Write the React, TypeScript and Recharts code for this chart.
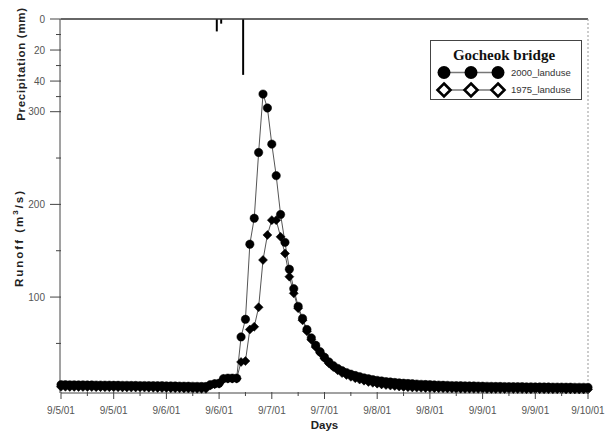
import React from 'react';
import { ComposedChart, Line, Bar, XAxis, YAxis, ReferenceLine, Legend } from 'recharts';

// hours since 9/5/01 00:00
const HOURS: number[] = Array.from({ length: 121 }, (_, i) => i);

const Q_2000 = [
  5.4, 5.4, 5.3, 5.3, 5.2, 5.2, 5.1, 5.1, 5.0, 5.0,
  4.9, 4.9, 4.8, 4.8, 4.7, 4.7, 4.6, 4.6, 4.5, 4.5,
  4.4, 4.4, 4.3, 4.3, 4.2, 4.1, 4.0, 3.9, 3.8, 3.8,
  3.7, 3.6, 3.5, 3.5, 5.5, 6.5, 7.0, 12.0, 12.5, 12.5,
  12.5, 57, 76, 157, 185, 256, 319, 304, 265, 231,
  189, 159, 130, 109, 90, 77, 65, 56, 48, 41,
  35, 30, 26, 23, 20.5, 18.5, 16.8, 15.3, 14.0, 12.8,
  11.8, 10.9, 10.1, 9.4, 8.8, 8.3, 7.8, 7.4, 7.0, 6.7,
  6.4, 6.1, 5.8, 5.6, 5.4, 5.2, 5.0, 4.8, 4.7, 4.5,
  4.4, 4.3, 4.2, 4.1, 4.0, 3.9, 3.8, 3.7, 3.6, 3.5,
  3.5, 3.4, 3.3, 3.3, 3.2, 3.2, 3.1, 3.1, 3.0, 3.0,
  2.9, 2.9, 2.8, 2.8, 2.8, 2.7, 2.7, 2.6, 2.6, 2.6, 2.5,
];

const Q_1975 = [
  3.2, 3.2, 3.1, 3.1, 3.0, 3.0, 2.9, 2.9, 2.8, 2.8,
  2.7, 2.7, 2.6, 2.6, 2.5, 2.5, 2.4, 2.4, 2.3, 2.3,
  2.2, 2.1, 2.0, 1.9, 1.8, 1.7, 1.6, 1.5, 1.4, 1.3,
  1.2, 1.1, 1.0, 1.0, 4.5, 6.0, 6.5, 11.5, 12.0, 12.0,
  12.0, 30, 31, 65, 68, 89, 140, 167, 183, 183,
  165, 147, 122, 104, 88, 75, 63, 54, 46, 40,
  34, 28.5, 24.5, 21, 18, 16, 14, 12.5, 11, 9.8,
  8.5, 7.5, 6.6, 5.8, 5.1, 4.5, 4.0, 3.5, 3.1, 2.8,
  2.5, 2.3, 2.1, 1.9, 1.8, 1.7, 1.6, 1.5, 1.4, 1.3,
  1.2, 1.2, 1.1, 1.1, 1.0, 1.0, 1.0, 0.9, 0.9, 0.9,
  0.8, 0.8, 0.8, 0.7, 0.7, 0.7, 0.6, 0.6, 0.6, 0.6,
  0.5, 0.5, 0.5, 0.5, 0.4, 0.4, 0.4, 0.4, 0.3, 0.3, 0.3,
];

const PRECIP_T = [35.5, 36.5, 41.5];
const PRECIP_MM = [8, 3, 36];

const X_TICKS = [0, 6, 12, 18, 24, 30, 36, 42, 48, 54, 60, 66, 72, 78, 84, 90, 96, 102, 108, 114, 120];
const X_TICK_LABELS = ['9/5/01', '9/5/01', '9/6/01', '9/6/01', '9/7/01', '9/7/01', '9/8/01', '9/8/01', '9/9/01', '9/9/01', '9/10/01'];
const RUNOFF_TICKS = [50, 100, 150, 200, 250, 300];
const RUNOFF_LABELED = [100, 200, 300];
const PRECIP_TICKS = [0, 10, 20, 30, 40, 50];
const PRECIP_LABELED = [0, 20, 40];

const SERIES_NAMES = ['2000_landuse', '1975_landuse'];
const LEGEND_TITLE = 'Gocheok bridge';

// layout constants
const W = 607;
const H = 432;
const PLOT_LEFT = 61;
const PLOT_TOP = 19;
const PLOT_RIGHT_MARGIN = 19;
const XAXIS_H = 39;
const PLOT_BOTTOM = H - XAXIS_H;
const FONT = '"Liberation Sans", Arial, sans-serif';
const TICK_COLOR = '#555';

type Row = { t: number; q2000?: number; q1975?: number; p?: number };

const rows: Row[] = [
  ...HOURS.map((t, i) => ({ t, q2000: Q_2000[i], q1975: Q_1975[i] })),
  ...PRECIP_T.map((t, i) => ({ t, p: PRECIP_MM[i] })),
].sort((a, b) => a.t - b.t);

const XTick = (props: any) => {
  const { x, payload } = props;
  const v = payload.value as number;
  const major = v % 12 === 0;
  return (
    <g>
      <line x1={x} x2={x} y1={PLOT_BOTTOM - 1} y2={PLOT_BOTTOM + (major ? 6 : 3)} stroke="#444" strokeWidth={1} />
      {major && (
        <text x={x} y={PLOT_BOTTOM + 21} textAnchor="middle" fontFamily={FONT} fontSize={10} fill={TICK_COLOR}>
          {X_TICK_LABELS[v / 12]}
        </text>
      )}
    </g>
  );
};

const makeYTick = (labeled: number[]) => (props: any) => {
  const { y, payload } = props;
  const v = payload.value as number;
  const major = labeled.includes(v);
  return (
    <g>
      <line x1={PLOT_LEFT - (major ? 11 : 5)} x2={PLOT_LEFT} y1={y} y2={y} stroke="#444" strokeWidth={1} />
      {major && (
        <text x={PLOT_LEFT - 16} y={y} dy="0.35em" textAnchor="end" fontFamily={FONT} fontSize={10} fill={TICK_COLOR}>
          {v}
        </text>
      )}
    </g>
  );
};

const RunoffTick = makeYTick(RUNOFF_LABELED);
const PrecipTick = makeYTick(PRECIP_LABELED);

const CircleDot = (props: any) => {
  const { cx, cy, value } = props;
  if (value == null || cx == null || cy == null) return null;
  return <circle cx={cx} cy={cy} r={4.2} fill="#000" stroke="#000" strokeWidth={0.5} />;
};

const DiamondDot = (props: any) => {
  const { cx, cy, value } = props;
  if (value == null || cx == null || cy == null) return null;
  const s = 4.5;
  return (
    <polygon
      points={`${cx},${cy - s} ${cx + s},${cy} ${cx},${cy + s} ${cx - s},${cy}`}
      fill="#000"
      stroke="#000"
      strokeWidth={0.5}
    />
  );
};

const PrecipLabel = () => {
  const cx = 21;
  const cy = 64;
  return (
    <text
      x={cx}
      y={cy}
      transform={`rotate(-90, ${cx}, ${cy})`}
      textAnchor="middle"
      dominantBaseline="central"
      fontFamily={FONT}
      fontWeight="bold"
      fontSize={11.5}
      letterSpacing={0.7}
      fill="#222"
    >
      Precipitation (mm)
    </text>
  );
};

const RunoffLabel = () => {
  const cx = 19;
  const cy = 238;
  return (
    <text
      x={cx}
      y={cy}
      transform={`rotate(-90, ${cx}, ${cy})`}
      textAnchor="middle"
      dominantBaseline="central"
      fontFamily={FONT}
      fontWeight="bold"
      fontSize={11.5}
      letterSpacing={2}
      fill="#222"
    >
      Runoff (m
      <tspan fontSize={8} dy={-4}>3</tspan>
      <tspan dy={4}>/s)</tspan>
    </text>
  );
};

const DaysLabel = () => (
  <text
    x={(PLOT_LEFT + (W - PLOT_RIGHT_MARGIN)) / 2}
    y={H - 3}
    textAnchor="middle"
    fontFamily={FONT}
    fontWeight="bold"
    fontSize={11.5}
    fill="#222"
  >
    Days
  </text>
);

const LegendBox = () => {
  const xs = [13, 40, 67];
  const y1 = 31.5;
  const y2 = 49;
  return (
    <div style={{ width: 152, height: 60, border: '1px solid #444', background: '#fff', boxSizing: 'border-box' }}>
      <svg width={150} height={58} style={{ display: 'block' }}>
        <text x={73} y={19} textAnchor="middle" fontFamily='"Liberation Serif", "Times New Roman", serif' fontWeight="bold" fontSize={15} fill="#111">
          {LEGEND_TITLE}
        </text>
        <line x1={xs[0]} x2={xs[2]} y1={y1} y2={y1} stroke="#777" strokeWidth={1.5} />
        {xs.map((x) => (
          <circle key={'c' + x} cx={x} cy={y1} r={6.5} fill="#000" />
        ))}
        <text x={80} y={y1} dy="0.35em" fontFamily={FONT} fontSize={9.5} fill="#333">
          {SERIES_NAMES[0]}
        </text>
        <line x1={xs[0]} x2={xs[2]} y1={y2} y2={y2} stroke="#777" strokeWidth={1.5} />
        {xs.map((x) => (
          <polygon
            key={'d' + x}
            points={`${x},${y2 - 6.5} ${x + 6.5},${y2} ${x},${y2 + 6.5} ${x - 6.5},${y2}`}
            fill="#fff"
            stroke="#000"
            strokeWidth={2.6}
          />
        ))}
        <text x={80} y={y2} dy="0.35em" fontFamily={FONT} fontSize={9.5} fill="#333">
          {SERIES_NAMES[1]}
        </text>
      </svg>
    </div>
  );
};

export default function App() {
  return (
    <div style={{ position: 'absolute', left: 0, top: 0, width: W, height: H, background: '#fff' }}>
      <ComposedChart
        width={W}
        height={H}
        data={rows}
        margin={{ top: PLOT_TOP, right: PLOT_RIGHT_MARGIN, left: 0, bottom: 0 }}
      >
        <XAxis
          dataKey="t"
          type="number"
          domain={[0, 120]}
          ticks={X_TICKS}
          interval={0}
          height={XAXIS_H}
          tickLine={false}
          axisLine={{ stroke: '#444', strokeWidth: 1 }}
          tick={<XTick />}
          label={<DaysLabel />}
        />
        <YAxis
          yAxisId="p"
          type="number"
          reversed
          domain={[0, 241]}
          ticks={PRECIP_TICKS}
          interval={0}
          width={1}
          axisLine={false}
          tickLine={false}
          tick={<PrecipTick />}
          label={<PrecipLabel />}
        />
        <YAxis
          yAxisId="q"
          type="number"
          domain={[-3.5, 400]}
          ticks={RUNOFF_TICKS}
          interval={0}
          width={PLOT_LEFT - 1}
          axisLine={{ stroke: '#444', strokeWidth: 1 }}
          tickLine={false}
          tick={<RunoffTick />}
          label={<RunoffLabel />}
        />
        <ReferenceLine yAxisId="q" y={400} stroke="#333" strokeWidth={1.3} />
        <ReferenceLine yAxisId="q" x={120} stroke="#999" strokeDasharray="2 2" />
        <Bar yAxisId="p" dataKey="p" fill="#000" barSize={3} isAnimationActive={false} />
        <Line
          yAxisId="q"
          dataKey="q1975"
          type="linear"
          stroke="#555"
          strokeWidth={1}
          dot={<DiamondDot />}
          activeDot={false}
          connectNulls
          isAnimationActive={false}
        />
        <Line
          yAxisId="q"
          dataKey="q2000"
          type="linear"
          stroke="#555"
          strokeWidth={1}
          dot={<CircleDot />}
          activeDot={false}
          connectNulls
          isAnimationActive={false}
        />
        <Legend
          layout="horizontal"
          verticalAlign="middle"
          align="center"
          content={<LegendBox />}
          wrapperStyle={{ left: 430, top: 40, width: 152 }}
        />
      </ComposedChart>
    </div>
  );
}
